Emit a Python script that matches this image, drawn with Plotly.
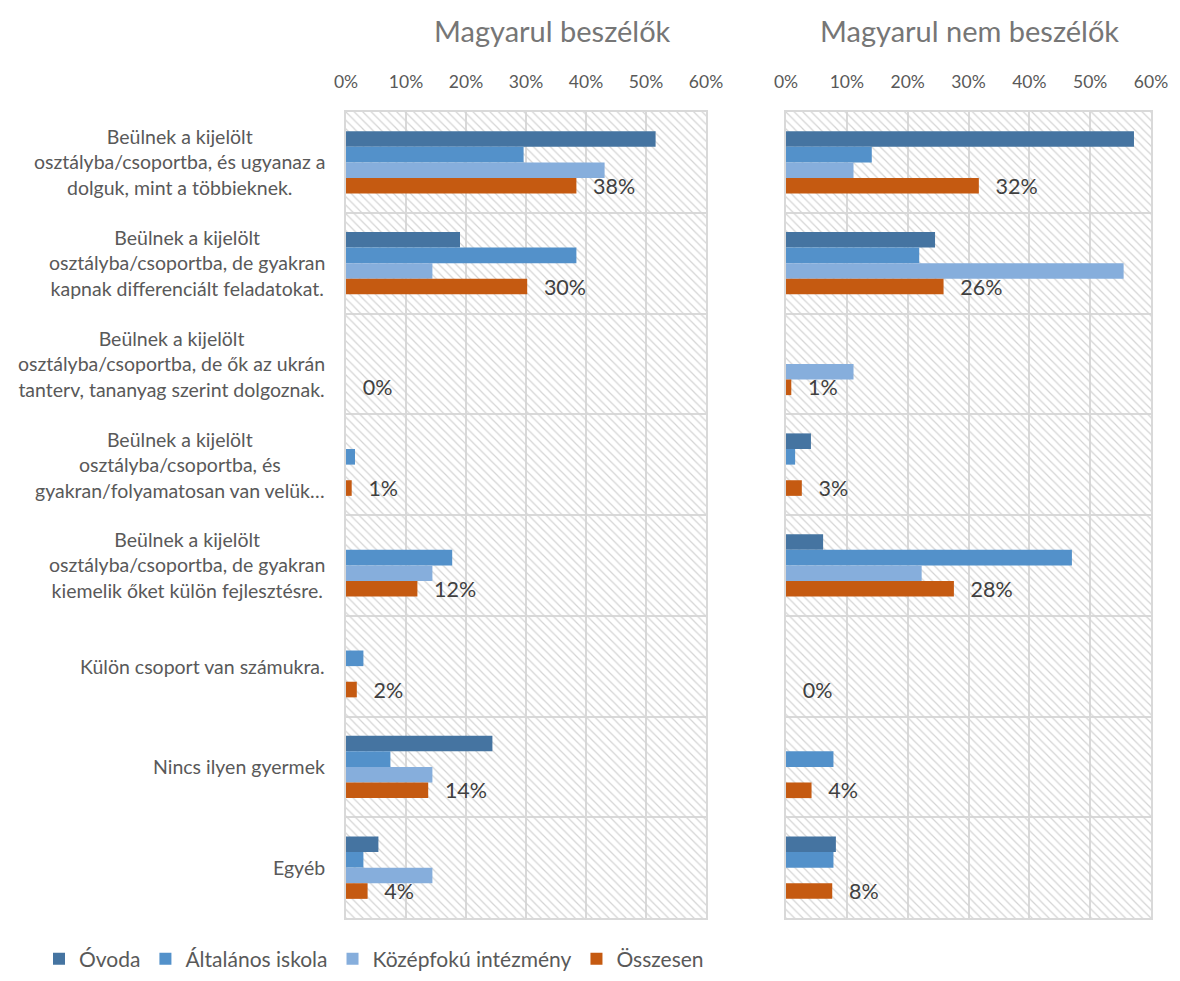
import plotly.graph_objects as go

# ---------------- data ----------------
categories = [
    "Beülnek a kijelölt<br>osztályba/csoportba, és ugyanaz a<br>dolguk, mint a többieknek.",
    "Beülnek a kijelölt<br>osztályba/csoportba, de gyakran<br>kapnak differenciált feladatokat.",
    "Beülnek a kijelölt<br>osztályba/csoportba, de ők az ukrán<br>tanterv, tananyag szerint dolgoznak.",
    "Beülnek a kijelölt<br>osztályba/csoportba, és<br>gyakran/folyamatosan van velük…",
    "Beülnek a kijelölt<br>osztályba/csoportba, de gyakran<br>kiemelik őket külön fejlesztésre.",
    "Külön csoport van számukra.",
    "Nincs ilyen gyermek",
    "Egyéb",
]
series_names = ["Óvoda", "Általános iskola", "Középfokú intézmény", "Összesen"]
panel_titles = ["Magyarul beszélők", "Magyarul nem beszélők"]

# Magyarul beszélők (percent)
left_ovoda = [51.6, 19.0, 0, 0, 0, 0, 24.4, 5.4]
left_altalanos = [29.6, 38.4, 0, 1.5, 17.7, 2.9, 7.4, 2.9]
left_kozepfoku = [43.1, 14.4, 0, 0, 14.4, 0, 14.4, 14.4]
left_osszesen = [38.4, 30.2, 0, 0.95, 11.9, 1.8, 13.7, 3.6]

# Magyarul nem beszélők (percent)
right_ovoda = [57.2, 24.5, 0, 4.1, 6.1, 0, 0, 8.2]
right_altalanos = [14.1, 21.9, 0, 1.5, 47.0, 0, 7.8, 7.8]
right_kozepfoku = [11.1, 55.5, 11.1, 0, 22.3, 0, 0, 0]
right_osszesen = [31.7, 25.9, 0.87, 2.6, 27.6, 0, 4.2, 7.6]

tick_vals = [0, 10, 20, 30, 40, 50, 60]
tick_text = ["0%", "10%", "20%", "30%", "40%", "50%", "60%"]
X_MAX = 60

# ---------------- style ----------------
colors = ["#4574A1", "#5391CA", "#86AEDC", "#C55A11"]
FONT = "Lato"
GRID = "#d9d9d9"
TXT = "#595959"

# the page body keeps an 8px margin: size the figure so the page fits the window
OFF = 8
W, H = 1180 - 2 * OFF, 981 - 2 * OFF


def px(xw):
    return (xw - OFF) / W


def py(yw):
    return 1 - (yw - OFF) / H


left_dom = [px(346), px(706)]
right_dom = [px(786), px(1151)]
y_dom = [py(918), py(112)]

idx = list(range(len(categories)))
n = len(categories)

fig = go.Figure()

# hatched background cells (drawn on base axes, under data)
for xa, ya in (("x", "y"), ("x2", "y2")):
    fig.add_trace(go.Bar(
        y=idx, x=[X_MAX] * n, orientation="h", xaxis=xa, yaxis=ya,
        width=1,
        marker=dict(color="rgba(0,0,0,0)", line=dict(width=0),
                    pattern=dict(shape="\\", fgcolor="#d4d4d4", size=6,
                                 solidity=0.2, fillmode="replace")),
        hoverinfo="skip", showlegend=False,
    ))

left_series = [left_ovoda, left_altalanos, left_kozepfoku, left_osszesen]
right_series = [right_ovoda, right_altalanos, right_kozepfoku, right_osszesen]

for panel, (series, xa, ya) in enumerate(((left_series, "x3", "y"), (right_series, "x4", "y2"))):
    for k, (name, vals) in enumerate(zip(series_names, series)):
        is_total = (k == 3)
        fig.add_trace(go.Bar(
            y=idx, x=vals, name=name, orientation="h",
            xaxis=xa, yaxis=ya,
            marker=dict(color=colors[k], line=dict(width=0)),
            legendgroup=name, showlegend=(panel == 0),
            texttemplate="\u00a0\u00a0\u2009%{x:.0f}%" if is_total else None,
            textposition="outside" if is_total else "none",
            textfont=dict(family=FONT, size=21.5, color="#404040"),
            constraintext="none", cliponaxis=False,
        ))

base_x = dict(range=[0, X_MAX], tickvals=tick_vals, showticklabels=False,
              showgrid=True, gridcolor=GRID, gridwidth=2, zeroline=False,
              showline=True, mirror=True, linecolor=GRID, linewidth=2,
              ticks="", fixedrange=True, side="top", automargin=False)
over_x = dict(range=[0, X_MAX], tickvals=tick_vals, ticktext=tick_text,
              showgrid=False, zeroline=False, showline=False, side="top",
              ticks="outside", ticklen=16, tickcolor="rgba(0,0,0,0)",
              tickfont=dict(family=FONT, size=17.5, color=TXT), fixedrange=True,
              automargin=False)
base_y = dict(range=[n - 0.5, -0.5], domain=y_dom,
              tickvals=[i - 0.5 for i in range(n + 1)], showticklabels=False,
              showgrid=True, gridcolor=GRID, gridwidth=2, zeroline=False,
              showline=True, mirror=True, linecolor=GRID, linewidth=2,
              ticks="", fixedrange=True, automargin=False)

annotations = []
for ttl, cx in zip(panel_titles, (552, 969)):
    annotations.append(dict(text=ttl, x=px(cx), y=py(31), xref="paper", yref="paper",
                            showarrow=False, xanchor="center", yanchor="middle",
                            font=dict(family=FONT, size=29, color="#767676")))
for i, cat in enumerate(categories):
    annotations.append(dict(text=cat, x=px(327), y=i, xref="paper", yref="y",
                            showarrow=False, xanchor="right", yanchor="middle", align="center",
                            font=dict(family=FONT, size=19.5, color=TXT)))

fig.update_layout(
    width=W, height=H,
    margin=dict(l=0, r=0, t=0, b=0, autoexpand=False),
    paper_bgcolor="white", plot_bgcolor="white",
    barmode="group", bargap=0.38, bargroupgap=0,
    font=dict(family=FONT, color=TXT),
    xaxis=dict(domain=left_dom, anchor="y", **base_x),
    xaxis2=dict(domain=right_dom, anchor="y2", **base_x),
    xaxis3=dict(overlaying="x", anchor="y", **over_x),
    xaxis4=dict(overlaying="x2", anchor="y2", **over_x),
    yaxis=dict(anchor="x", **base_y),
    yaxis2=dict(anchor="x2", **base_y),
    legend=dict(orientation="h", x=px(39), y=py(959), xanchor="left", yanchor="middle",
                font=dict(family=FONT, size=21, color=TXT), traceorder="normal",
                bgcolor="rgba(0,0,0,0)"),
    annotations=annotations,
    showlegend=True,
)

fig.write_html("out.html")
